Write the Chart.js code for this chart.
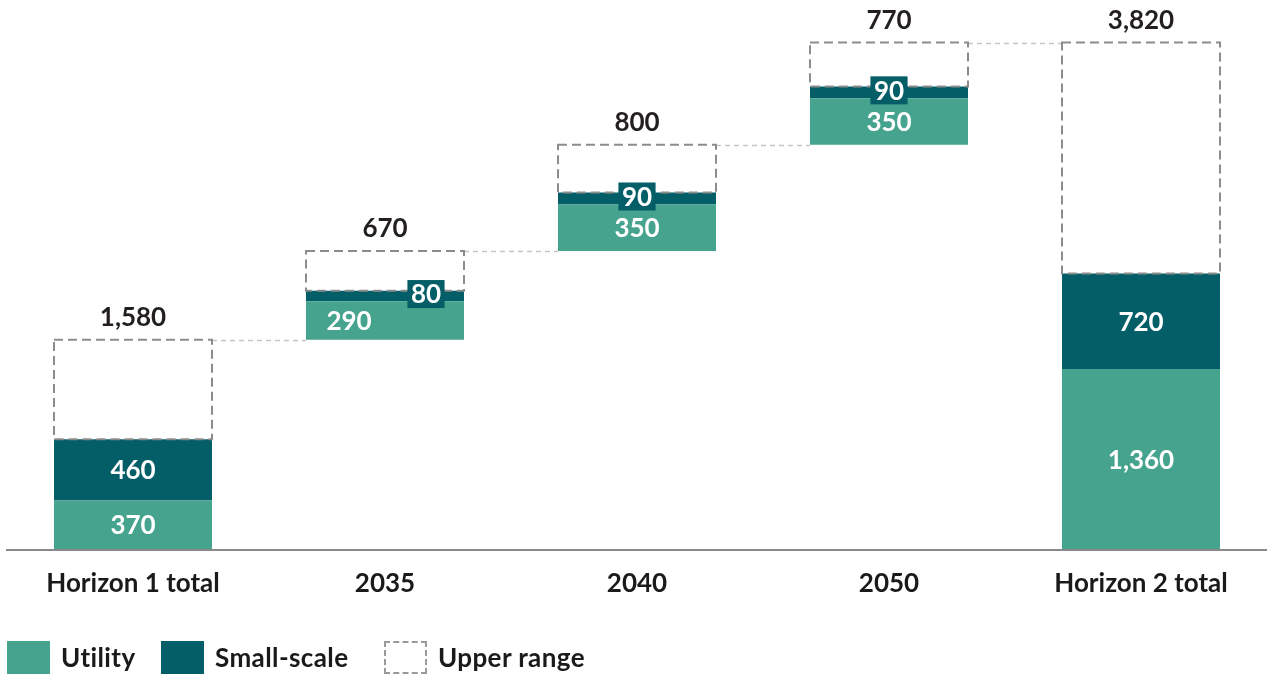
<!DOCTYPE html>
<html>
<head>
<meta charset="utf-8">
<script src="https://cdn.jsdelivr.net/npm/chart.js@4.4.1/dist/chart.umd.min.js"></script>
<style>
  html, body { margin: 0; padding: 0; background: #fff; }
  #wrap { position: relative; width: 1267px; height: 677px; }
  #legend { position: absolute; left: 0; top: 640px; width: 1267px; height: 34px;
    font: bold 26px Lato, sans-serif; color: #1a1a1a; }
  .item { position: absolute; top: 0; height: 34px; display: flex; align-items: center; letter-spacing: 0.4px; }
  .sw { width: 43px; height: 33px; box-sizing: border-box; margin-right: 11px; }
</style>
</head>
<body>
<div id="wrap">
  <canvas id="chart" width="1267" height="677" style="width:1267px;height:677px"></canvas>
  <div id="legend">
    <div class="item" style="left:7px"><span class="sw" style="background:#46A38E"></span>Utility</div>
    <div class="item" style="left:161px"><span class="sw" style="background:#045E68"></span>Small-scale</div>
    <div class="item" style="left:384px"><span class="sw" style="border:2px dashed #9a9a9a"></span>Upper range</div>
  </div>
</div>
<script>
// values (units as labelled)
const categories = ['Horizon 1 total', '2035', '2040', '2050', 'Horizon 2 total']
const isTotal = [true, false, false, false, true]
const utility = [370, 290, 350, 350, 1360]
const smallScale = [460, 80, 90, 90, 720]
const totals = [1580, 670, 800, 770, 3820]   // full height incl. upper range
const yMax = 4000

const UTIL = '#46A38E'
const SMALL = '#045E68'
const FONT = 'Lato, sans-serif'

// waterfall: steps float on the running total, totals sit on zero
let running = 0
const starts = totals.map((t, i) => {
  if (isTotal[i]) { running = t; return 0 }
  const s = running
  running += t
  return s
})

const utilityBars = starts.map((s, i) => [s, s + utility[i]])
const smallBars = starts.map((s, i) => [s + utility[i], s + utility[i] + smallScale[i]])
const upperBars = starts.map((s, i) => [s + utility[i] + smallScale[i], s + totals[i]])

const fmt = v => v.toLocaleString('en-US')

// label nudges for the crowded 2035 step
const utilLabelDx = [0, -36, 0, 0, 0]
const smallLabelDx = [0, 41, 0, 0, 0]

const waterfallDecor = {
  id: 'waterfallDecor',
  afterDatasetsDraw(chart) {
    const ctx = chart.ctx
    const yScale = chart.scales.y
    const uMeta = chart.getDatasetMeta(0)
    const sMeta = chart.getDatasetMeta(1)
    const rMeta = chart.getDatasetMeta(2)
    ctx.save()

    // connectors between step tops
    ctx.setLineDash([5, 4])
    ctx.strokeStyle = '#c6c6c6'
    ctx.lineWidth = 1.5
    for (let i = 0; i < rMeta.data.length - 1; i++) {
      const a = rMeta.data[i], b = rMeta.data[i + 1]
      const y = Math.round(yScale.getPixelForValue(upperBars[i][1])) + 0.5
      ctx.beginPath()
      ctx.moveTo(a.x + a.width / 2, y)
      ctx.lineTo(b.x - b.width / 2, y)
      ctx.stroke()
    }

    // dashed upper-range boxes
    ctx.setLineDash([9, 5])
    ctx.strokeStyle = '#8c8c8c'
    ctx.lineWidth = 2
    rMeta.data.forEach(el => {
      ctx.strokeRect(el.x - el.width / 2, el.y, el.width, el.base - el.y)
    })
    ctx.setLineDash([])

    ctx.font = `bold 26px ${FONT}`
    ctx.textAlign = 'center'

    // totals above each box
    ctx.fillStyle = '#231f20'
    ctx.textBaseline = 'alphabetic'
    rMeta.data.forEach((el, i) => {
      ctx.fillText(fmt(totals[i]), el.x, el.y - 14)
    })

    // values inside segments
    ctx.textBaseline = 'middle'
    uMeta.data.forEach((el, i) => {
      ctx.fillStyle = '#fff'
      ctx.fillText(fmt(utility[i]), el.x + utilLabelDx[i], (el.y + el.base) / 2 + 1)
    })
    sMeta.data.forEach((el, i) => {
      const cx = el.x + smallLabelDx[i]
      const cy = (el.y + el.base) / 2
      const txt = fmt(smallScale[i])
      if (el.base - el.y < 30) {
        const w = ctx.measureText(txt).width + 7
        ctx.fillStyle = SMALL
        ctx.fillRect(cx - w / 2, cy - 16, w, 28)
        ctx.fillStyle = '#fff'
        ctx.fillText(txt, cx, cy - 1)
      } else {
        ctx.fillStyle = '#fff'
        ctx.fillText(txt, cx, cy + 1)
      }
    })
    ctx.restore()
  }
}

new Chart(document.getElementById('chart'), {
  type: 'bar',
  data: {
    labels: categories,
    datasets: [
      { label: 'Utility', data: utilityBars, backgroundColor: UTIL, borderWidth: 0 },
      { label: 'Small-scale', data: smallBars, backgroundColor: SMALL, borderWidth: 0 },
      { label: 'Upper range', data: upperBars, backgroundColor: 'rgba(0,0,0,0)', borderWidth: 0 },
    ],
  },
  options: {
    responsive: false,
    animation: false,
    datasets: { bar: { barPercentage: 0.627, categoryPercentage: 1 } },
    layout: { padding: { left: 7, right: 0, top: 18.7, bottom: 0 } },
    scales: {
      x: {
        stacked: true,
        grid: { display: false, drawTicks: false },
        border: { display: true, color: '#8a8a8a', width: 2, z: 1 },
        ticks: { color: '#1a1a1a', font: { family: FONT, size: 26, weight: 'bold' }, padding: 19 },
        afterFit: s => { s.height = 127.5 },
      },
      y: { display: false, stacked: false, min: 0, max: yMax },
    },
    plugins: { legend: { display: false }, tooltip: { enabled: false } },
  },
  plugins: [waterfallDecor],
})
</script>
</body>
</html>
